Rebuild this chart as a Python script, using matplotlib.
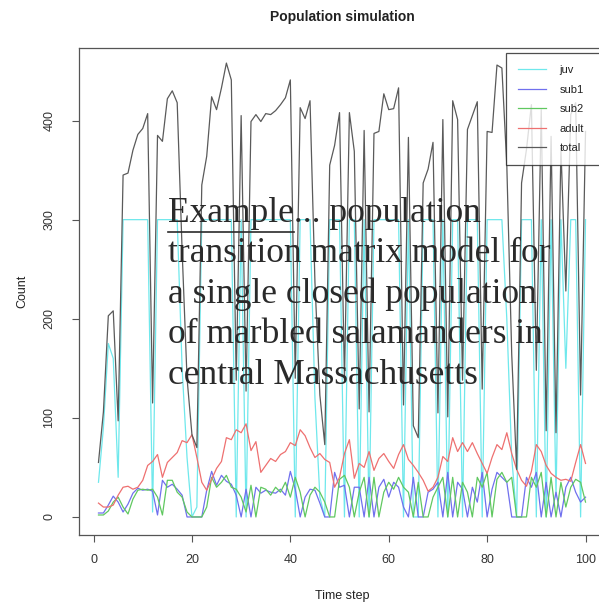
import numpy as np
import matplotlib
matplotlib.use("Agg")
import matplotlib.pyplot as plt

# ---------------- data ----------------
time_step = list(range(1, 101))

juv = [35, 90, 175, 160, 40, 300, 300, 300, 300, 300,
       300, 5, 300, 300, 300, 300, 300, 150, 60, 0,
       10, 300, 300, 300, 300, 300, 300, 300, 0, 300,
       0, 300, 300, 300, 300, 300, 300, 300, 300, 300,
       0, 300, 300, 300, 120, 20, 0, 300, 300, 300,
       0, 300, 300, 0, 300, 0, 300, 300, 300, 300,
       300, 300, 0, 300, 0, 0, 300, 300, 300, 0,
       300, 0, 300, 300, 0, 300, 300, 300, 0, 300,
       300, 300, 300, 200, 60, 0, 300, 300, 300, 0,
       300, 0, 300, 20, 300, 150, 300, 300, 0, 300]

sub1 = [4, 4, 12, 21, 15, 5, 13, 24, 29, 27,
        28, 26, 2, 37, 30, 33, 28, 22, 0, 0,
        0, 0, 27, 46, 32, 42, 36, 33, 22, 0,
        28, 0, 30, 24, 27, 25, 24, 28, 22, 46,
        28, 0, 20, 28, 27, 14, 0, 0, 45, 30,
        32, 0, 30, 30, 0, 40, 0, 30, 38, 20,
        35, 30, 10, 0, 40, 0, 0, 25, 28, 35,
        0, 45, 0, 35, 28, 0, 30, 15, 45, 0,
        28, 45, 40, 35, 0, 0, 0, 40, 30, 45,
        0, 35, 0, 25, 0, 30, 40, 25, 15, 20]

sub2 = [2, 2, 6, 15, 20, 10, 3, 18, 27, 28,
        27, 28, 20, 2, 37, 37, 25, 20, 5, 0,
        0, 0, 10, 40, 30, 35, 42, 30, 28, 20,
        5, 32, 0, 30, 28, 22, 30, 25, 35, 20,
        40, 25, 0, 22, 30, 25, 15, 0, 0, 38,
        42, 30, 0, 25, 40, 0, 40, 0, 25, 35,
        28, 40, 30, 25, 0, 35, 0, 0, 20, 30,
        40, 0, 40, 0, 35, 25, 0, 40, 30, 45,
        0, 38, 45, 35, 40, 0, 0, 0, 40, 30,
        45, 0, 40, 0, 35, 10, 30, 38, 35, 15]

adult = [14, 10, 10, 12, 22, 30, 31, 28, 30, 37,
         52, 56, 63, 40, 55, 60, 65, 77, 75, 83,
         60, 35, 27, 38, 49, 56, 80, 78, 88, 85,
         94, 67, 76, 45, 52, 59, 56, 63, 66, 75,
         72, 88, 82, 70, 60, 64, 58, 55, 30, 40,
         64, 78, 39, 54, 50, 66, 47, 59, 64, 56,
         49, 63, 73, 58, 52, 45, 37, 26, 30, 40,
         61, 56, 80, 66, 75, 66, 75, 64, 54, 44,
         60, 73, 68, 85, 64, 48, 37, 31, 46, 73,
         66, 52, 44, 40, 37, 38, 36, 55, 73, 54]

series_names = ["juv", "sub1", "sub2", "adult", "total"]
total = [j + a + b + c for j, a, b, c in zip(juv, sub1, sub2, adult)]

# ---------------- figure ----------------
W, H = 599, 604
fig = plt.figure(figsize=(W / 100, H / 100), dpi=100)
plt.rcParams['font.family'] = ['Liberation Sans', 'DejaVu Sans']

ax_left, ax_right, ax_top, ax_bot = 79, 605, 48, 535
ax = fig.add_axes([ax_left / W, 1 - ax_bot / H, (ax_right - ax_left) / W, (ax_bot - ax_top) / H])

colors = {"juv": "#6fe8ec", "sub1": "#7070ee", "sub2": "#60c860",
          "adult": "#ee7070", "total": "#5a5a5a"}
data = {"juv": juv, "sub1": sub1, "sub2": sub2, "adult": adult, "total": total}
for name in series_names:
    ax.plot(time_step, data[name], color=colors[name], lw=0.9, label=name)

ax.set_xlim(-2.96, 103.96)
ax.set_ylim(-18.2, 473.2)
ax.set_xticks([0, 20, 40, 60, 80, 100])
ax.set_yticks([0, 100, 200, 300, 400])
for s in ax.spines.values():
    s.set_color("#555555")
    s.set_linewidth(0.9)
ax.tick_params(axis='both', length=5, width=0.8, color="#555555",
               labelsize=9, labelcolor="#333333")
ax.tick_params(axis='x', pad=9)
ax.tick_params(axis='y', pad=12)
for lab in ax.get_yticklabels():
    lab.set_rotation(90)
    lab.set_va('center')

ax.set_xlabel("Time step", fontsize=9, color="#222222")
ax.xaxis.set_label_coords((342 - ax_left) / (ax_right - ax_left), -(596 - ax_bot) / (ax_bot - ax_top))
ax.xaxis.label.set_va('center')
ax.set_ylabel("Count", fontsize=9, color="#222222")
ax.yaxis.set_label_coords(-(ax_left - 22) / (ax_right - ax_left), 0.5)
ax.yaxis.label.set_va('center')

fig.text(342 / W, 1 - 17 / H, "Population simulation", ha='center', va='center',
         fontsize=10, fontweight='bold', color="#222222")

leg = fig.legend(loc='upper left', bbox_to_anchor=(506 / W, 1 - 53 / H, 110 / W, 0),
                 mode='expand', fontsize=8, frameon=True, fancybox=False,
                 handlelength=2.5, handletextpad=1.2, labelspacing=0.85,
                 borderpad=1.1, borderaxespad=0)
leg.get_frame().set_edgecolor("#222222")
leg.get_frame().set_linewidth(0.9)
for t in leg.get_texts():
    t.set_color("#222222")

# ---------------- overlay text ----------------
overlay_lines = ["Example... population",
                 "transition matrix model for",
                 "a single closed population",
                 "of marbled salamanders in",
                 "central Massachusetts"]
serif = ['Liberation Serif', 'DejaVu Serif']
x0 = 168
baselines = [222, 262, 303, 343, 384]
fs = 25.5
for line, yb in zip(overlay_lines, baselines):
    fig.text(x0 / W, 1 - yb / H, line, ha='left', va='baseline', fontsize=fs,
             family=serif, color="#2a2a2a")

# underline "Example"
probe = fig.text(x0 / W, 1 - baselines[0] / H, "Example", ha='left', va='baseline',
                 fontsize=fs, family=serif, color='none')
fig.canvas.draw()
bb = probe.get_window_extent()
probe.remove()
uy = 1 - (baselines[0] + 10) / H
fig.add_artist(plt.Line2D([bb.x0 / W, bb.x1 / W], [uy, uy], color="#2a2a2a", lw=1.2,
                          transform=fig.transFigure))

fig.savefig("out.png", dpi=100)
